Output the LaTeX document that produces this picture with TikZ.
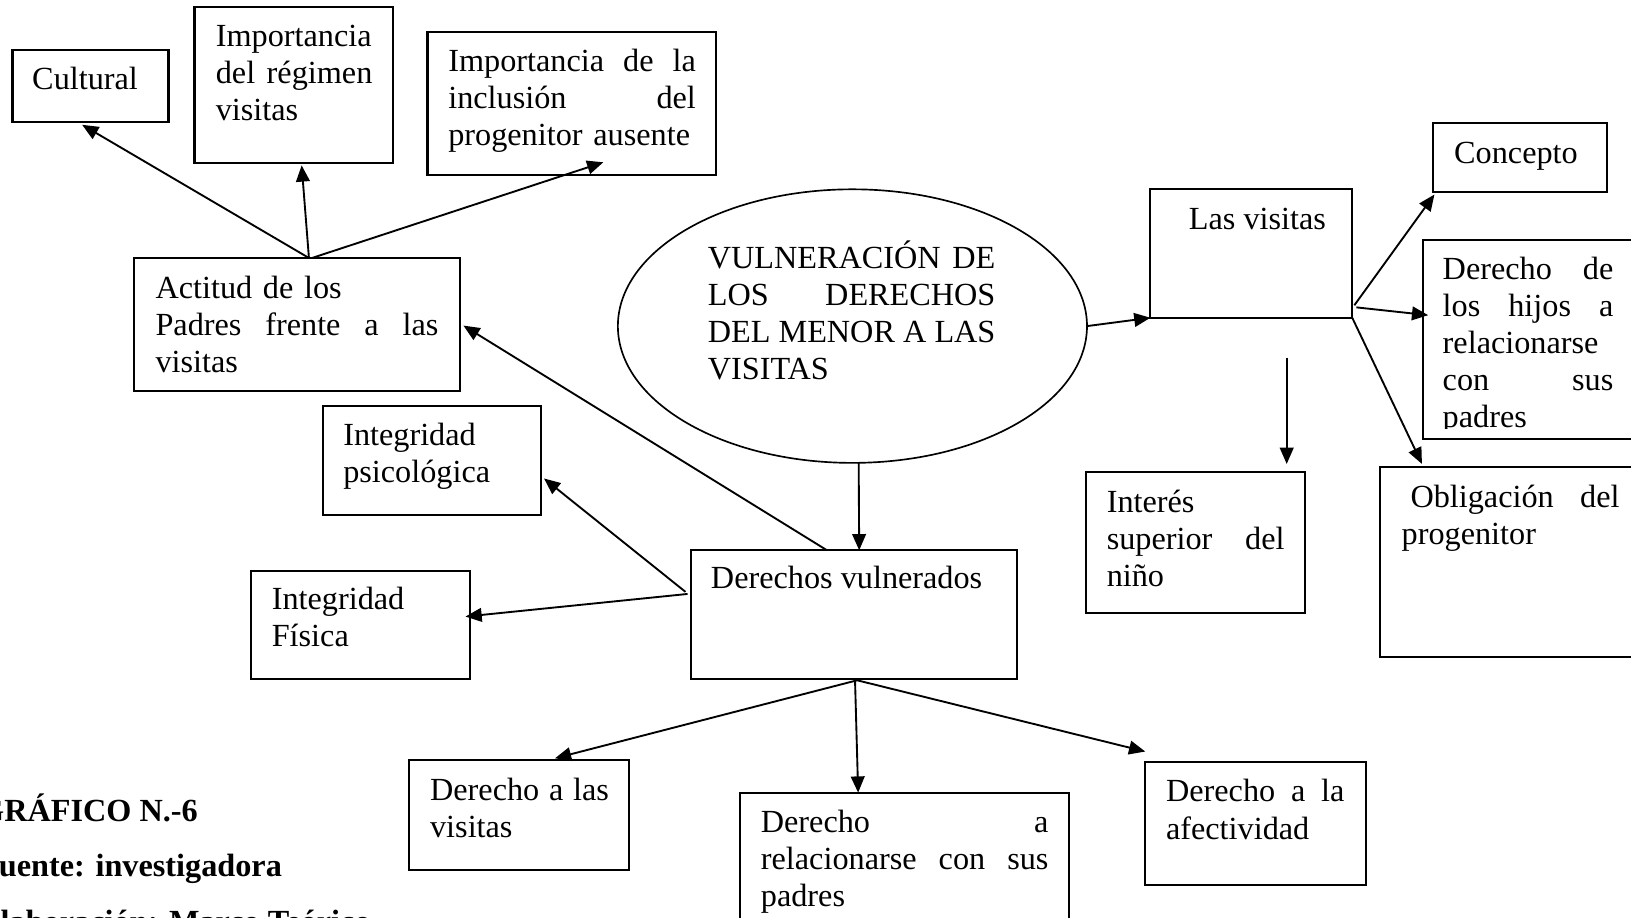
\documentclass[tikz,border=0pt]{standalone}
\usepackage{fontspec}
\setmainfont{Liberation Serif}
\usetikzlibrary{arrows.meta,shapes.geometric,fit,calc}
\newcommand\jl[2][0pt]{\hbox to \hsize{\hskip#1\relax\spaceskip=0pt plus 1fil\relax\xspaceskip=0pt plus 1fil\relax #2}\par}
\newcommand\fsz{\fontsize{15.5pt}{17.8pt}\selectfont}
\begin{document}
\begin{tikzpicture}[x=0.5pt,y=-0.5pt,
  box/.style={draw, line width=1pt, inner sep=0pt, outer sep=0pt},
  ell/.style={draw, ellipse, line width=0.8pt, inner sep=0pt, outer sep=0pt},
  txt/.style={inner sep=0pt, outer sep=0pt, anchor=base west, font=\fsz},
  captxt/.style={inner sep=0pt, outer sep=0pt, anchor=base west, font=\fsz\bfseries},
  arr/.style={-{Triangle[length=7.8pt,width=6.6pt]}, line width=0.9pt}]
\useasboundingbox (0,0) rectangle (1568,882.5);
\clip (0,0) rectangle (1568,882.5);

% boxes
\node[box, fit={(12,48)(162,117)}] (cult) {};
\node[txt] (cult-t) at (31,86.5) {Cultural};

\node[box, fit={(187,6.5)(378,157)}] (imp1) {};
\node[txt, text width=75.25pt] (imp1-t) at (207.5,45) {Importancia\par\jl{del régimen}visitas};

\node[box, fit={(411,30.5)(688.5,168)}] (imp2) {};
\node[txt, text width=119pt] (imp2-t) at (431,68.5) {\jl{Importancia de la}\jl{inclusión del}progenitor ausente};

\node[box, fit={(129,248)(442.5,376)}] (act) {};
\node[txt, text width=136pt] (act-t) at (149.5,287) {Actitud de los\par\jl{Padres frente a las}visitas};

\node[ell, minimum width=225.5pt, minimum height=131.5pt] (ell) at (819.5,313.5) {};
\node[txt, text width=138.25pt] (ell-t) at (680.5,257.8) {\jl{VULNERACIÓN DE}\jl{LOS DERECHOS}\jl{DEL MENOR A LAS}VISITAS};

\node[box, fit={(1106,182)(1300,305.5)}] (vis) {};
\node[txt] (vis-t) at (1143,221) {Las visitas};

\node[box, fit={(1378,118)(1544.5,184.5)}] (conc) {};
\node[txt] (conc-t) at (1398,157) {Concepto};

\node[box, fit={(1368,231)(1640,422)}] (hijos) {};
\begin{scope}
\clip (1368,231) rectangle (1640,412);
\node[txt, text width=82pt] (hijos-t) at (1387,269) {\jl{Derecho de}\jl{los hijos a}relacionarse\par\jl{con sus}padres};
\end{scope}

\node[box, fit={(1327,449)(1640,632)}] (oblig) {};
\node[txt, text width=104.75pt] (oblig-t) at (1347.5,487.5) {\jl[4.25pt]{Obligación del}progenitor};

\node[box, fit={(1044,454)(1254.5,589)}] (int) {};
\node[txt, text width=85.5pt] (int-t) at (1064,492.5) {Interés\par\jl{superior del}niño};

\node[box, fit={(310.5,390.5)(520,495.5)}] (psic) {};
\node[txt, text width=90pt] (psic-t) at (330,428.5) {Integridad\par psicológica};

\node[box, fit={(241.5,548.5)(451.5,653)}] (fis) {};
\node[txt, text width=90pt] (fis-t) at (261.3,586) {Integridad\par Física};

\node[box, fit={(664,529)(977.5,653)}] (dv) {};
\node[txt] (dv-t) at (683.5,566) {Derechos vulnerados};

\node[box, fit={(393.5,731)(605,836)}] (dlv) {};
\node[txt, text width=86pt] (dlv-t) at (413.5,770) {\jl{Derecho a las}visitas};

\node[box, fit={(711.5,762)(1027.5,950)}] (rel) {};
\node[txt, text width=138.25pt] (rel-t) at (731.5,800.5) {\jl{Derecho a}\jl{relacionarse con sus}padres};

\node[box, fit={(1101,732.5)(1313,851)}] (afec) {};
\node[txt, text width=85.75pt] (afec-t) at (1121,771) {\jl{Derecho a la}afectividad};

% caption
\node[captxt] (c1) at (-20,790) {GRÁFICO N.-6};
\node[captxt] (c2) at (-20,843) {Fuente: investigadora};
\node[captxt] (c3) at (-20,896) {Elaboración: Marco Teórico};

% connectors
\draw[arr] ($(act.north west)+(168,0)$) -- ($(cult.south west)+(67,3)$);
\draw[arr] ($(act.north west)+(168,0)$) -- ($(imp1.south west)+(103,2)$);
\draw[arr] ($(act.north west)+(171,0)$) -- ($(imp2.south west)+(169,-12)$);
\draw[arr] ($(dv.north west)+(131,0)$) -- ($(act.east)+(3,1)$);
\draw[arr] ($(ell.south)+(6,0)$) -- ($(dv.north west)+(162,0)$);
\draw[arr] ($(dv.north west)+(-5,40)$) -- ($(psic.east)+(3,17)$);
\draw[arr] ($(dv.north west)+(-3,42)$) -- ($(fis.east)+(-4,-8)$);
\draw[arr] (ell.east) -- (vis.south west);
\coordinate (dn) at (1237,344);
\draw[arr] (dn) -- ($(int.north east)+(-17.5,-8)$);
\draw[arr] ($(vis.south east)+(2,-12)$) -- ($(conc.south west)+(1,2.5)$);
\draw[arr] ($(vis.south east)+(4,-10)$) -- ($(hijos.north west)+(5,72)$);
\draw[arr] (vis.south east) -- ($(oblig.north west)+(40,-3)$);
\draw[arr] ($(dv.south west)+(160,1)$) -- ($(dlv.north west)+(140,-2)$);
\draw[arr] ($(dv.south west)+(158,1)$) -- ($(rel.north west)+(113.5,0)$);
\draw[arr] ($(dv.south west)+(160,1)$) -- ($(afec.north west)+(0,-10)$);
\end{tikzpicture}
\end{document}
